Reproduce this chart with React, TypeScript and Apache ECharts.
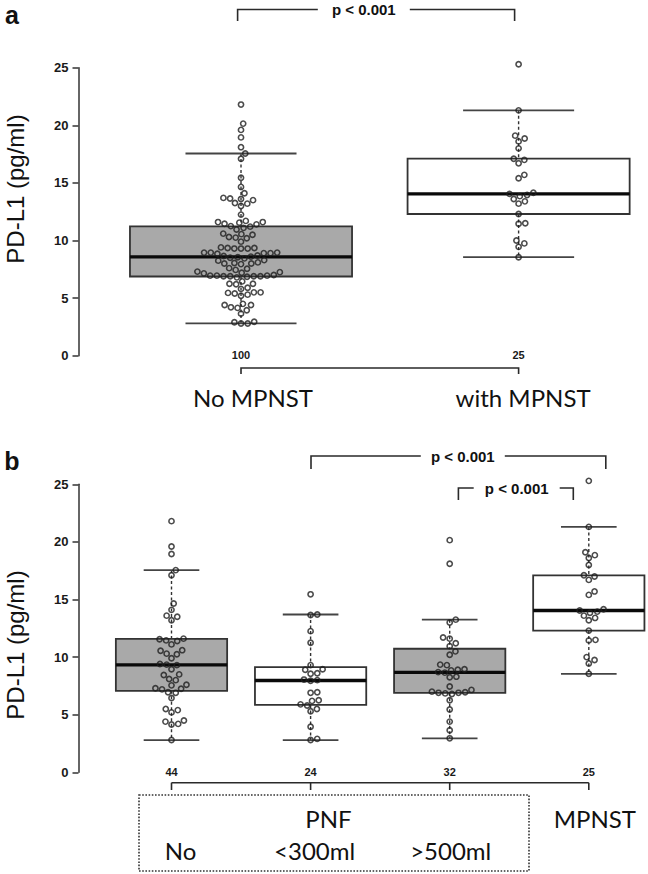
import React, { useEffect, useRef } from "react";
import * as echarts from "echarts";

// ---------- data ----------
const panelACategories = ["No MPNST", "with MPNST"];
const panelBTopLabel = ["PNF", "MPNST"];
const panelBCategories = ["No", "<300ml", ">500ml"];

const noPnf = [
  21.8, 19.6, 18.95, 17.55, 17.1, 14.65, 14.1, 13.6, 13.5, 13.2,
  11.6, 11.55, 11.45, 11.4, 11.1, 10.6, 10.55, 10.3, 10.25, 9.9, 9.4, 9.35, 9.3,
  8.95, 8.5, 8.45, 8.1, 8.0, 7.6, 7.55, 7.3, 7.25, 7.2, 6.95, 6.9, 6.45,
  5.5, 5.4, 5.2, 4.5, 4.4, 4.2, 4.15, 2.8,
];
const pnfSmall = [
  15.45, 13.7, 13.65, 12.25, 11.25, 9.3, 8.95, 8.9, 8.6, 8.55, 8.05, 8.0,
  7.95, 6.95, 6.9, 6.25, 6.2, 5.9, 5.8, 5.5, 5.3, 3.95, 2.9, 2.8,
];
const pnfLarge = [
  20.15, 18.1, 13.25, 13.0, 11.7, 11.6, 11.2, 10.95, 10.5, 10.2, 9.35, 9.3,
  8.95, 8.9, 8.85, 8.7, 8.65, 8.3, 8.25, 7.45, 7.15, 7.0, 6.95, 6.9, 6.9,
  6.85, 6.8, 6.25, 5.45, 4.4, 3.65, 2.95,
];
const mpnst = [
  25.3, 21.3, 19.1, 18.85, 18.6, 18.0, 17.1, 17.0, 16.7, 15.7, 15.4, 14.15,
  14.05, 13.95, 13.85, 13.6, 13.4, 13.2, 12.3, 11.5, 11.45, 10.0, 9.75, 9.45, 8.55,
];
const noMpnst = [...noPnf, ...pnfSmall, ...pnfLarge];

const panelAGroups = [noMpnst, mpnst];
const panelBGroups = [noPnf, pnfSmall, pnfLarge, mpnst];
const panelAFills = ["#a9a9a9", "#ffffff"];
const panelBFills = ["#a9a9a9", "#ffffff", "#a9a9a9", "#ffffff"];
const yTicks = [0, 5, 10, 15, 20, 25];
const pLabel = "p < 0.001";
const yTitle = "PD-L1 (pg/ml)";

// ---------- layout constants ----------
const W = 648;
const H = 874;
const GRID_LEFT = 78.5;
const PLOT_H = 288;
const A_TOP = 67.7;
const B_TOP = 484.3;
const A_MIN = 0.4146, A_MAX = 2.45;
const B_MIN = 0.3314, B_MAX = 4.4;
const A_SPACING = 277.6;
const B_SPACING = 139.1;
const SWARM_D = 6.7;

// R style boxplot statistics
function fivenum(x: number[]) {
  const s = [...x].sort((a, b) => a - b);
  const n = s.length;
  const n4 = Math.floor((n + 3) / 2) / 2;
  const d = [1, n4, (n + 1) / 2, n + 1 - n4, n];
  return d.map((p) => 0.5 * (s[Math.floor(p) - 1] + s[Math.ceil(p) - 1]));
}
function boxStats(x: number[]) {
  const [, q1, med, q3] = fivenum(x);
  const iqr = q3 - q1;
  const lowF = q1 - 1.5 * iqr;
  const hiF = q3 + 1.5 * iqr;
  const lo = Math.min(...x.filter((v) => v >= lowF));
  const hi = Math.max(...x.filter((v) => v <= hiF));
  return [lo, q1, med, q3, hi];
}

// beeswarm ("swarm", ascending priority) offsets in pixels
function swarm(values: number[], pxPerUnit: number, d: number) {
  const n = values.length;
  const ys = values.map((v) => (v * pxPerUnit) / d);
  const order = values.map((_, i) => i).sort((a, b) => values[a] - values[b]);
  const xs = new Array(n).fill(0);
  const placed: number[] = [];
  for (const i of order) {
    const cands = [0];
    const near: number[] = [];
    for (const j of placed) {
      const dy = ys[i] - ys[j];
      if (Math.abs(dy) < 1) {
        near.push(j);
        const s = Math.sqrt(1 - dy * dy);
        cands.push(xs[j] + s, xs[j] - s);
      }
    }
    let best = Infinity;
    for (const c of cands) {
      if (Math.abs(c) >= Math.abs(best)) continue;
      let ok = true;
      for (const j of near) {
        const dx = c - xs[j];
        const dy = ys[i] - ys[j];
        if (dx * dx + dy * dy < 0.999) { ok = false; break; }
      }
      if (ok) best = c;
    }
    xs[i] = best;
    placed.push(i);
  }
  return xs.map((x) => x * d);
}

const FONT_AXIS = "Liberation Sans, Arial, sans-serif";
const FONT_LABEL = "Lato, Carlito, sans-serif";
const INK = "#1a1a1a";
const LINE = "#333";

function boxSeries(groups: number[][], fills: string[], gi: number) {
  return {
    type: "custom",
    xAxisIndex: gi,
    yAxisIndex: gi,
    clip: false,
    z: 2,
    data: groups.map((g, i) => [i + 1, ...boxStats(g)]),
    renderItem: (params: any, api: any) => {
      const x = api.value(0);
      const c = (v: number) => api.coord([x, v]);
      const lo = c(api.value(1));
      const q1 = c(api.value(2));
      const md = c(api.value(3));
      const q3 = c(api.value(4));
      const hi = c(api.value(5));
      const cx = lo[0];
      const half = api.size([0.8, 0])[0] / 2;
      const cap = half * 0.5;
      const fill = fills[params.dataIndex];
      const dash = { stroke: LINE, lineWidth: 1.4, lineDash: [3, 2.5] };
      const solid = { stroke: "#444", lineWidth: 1.8 };
      return {
        type: "group",
        children: [
          { type: "line", shape: { x1: cx, y1: hi[1], x2: cx, y2: q3[1] }, style: dash },
          { type: "line", shape: { x1: cx, y1: q1[1], x2: cx, y2: lo[1] }, style: dash },
          { type: "line", shape: { x1: cx - cap, y1: hi[1], x2: cx + cap, y2: hi[1] }, style: solid },
          { type: "line", shape: { x1: cx - cap, y1: lo[1], x2: cx + cap, y2: lo[1] }, style: solid },
          {
            type: "rect",
            shape: { x: cx - half, y: q3[1], width: 2 * half, height: q1[1] - q3[1] },
            style: { fill, stroke: LINE, lineWidth: 1.8 },
          },
          { type: "line", shape: { x1: cx - half, y1: md[1], x2: cx + half, y2: md[1] }, style: { stroke: "#0a0a0a", lineWidth: 3.4 } },
        ],
      };
    },
  };
}

function pointSeries(groups: number[][], gi: number) {
  const ppu = PLOT_H / 25;
  const data: any[] = [];
  groups.forEach((g, i) => {
    const off = swarm(g, ppu, SWARM_D);
    g.forEach((v, k) => data.push({ value: [i + 1, v], symbolOffset: [off[k], 0] }));
  });
  return {
    type: "scatter",
    xAxisIndex: gi,
    yAxisIndex: gi,
    clip: false,
    z: 3,
    symbol: "circle",
    symbolSize: 5.2,
    itemStyle: { color: "rgba(255,255,255,0)", borderColor: "#1e1e1e", borderWidth: 1.6 },
    emphasis: { disabled: true },
    data,
  };
}

function yAxis(gi: number) {
  return {
    type: "value",
    gridIndex: gi,
    min: yTicks[0],
    max: yTicks[yTicks.length - 1],
    interval: yTicks[1] - yTicks[0],
    axisLine: { show: true, lineStyle: { color: LINE, width: 1.5 } },
    axisTick: { show: true, length: 6, lineStyle: { color: LINE, width: 1.5 } },
    axisLabel: { fontSize: 13, fontWeight: "bold", color: INK, fontFamily: FONT_AXIS, margin: 10 },
    splitLine: { show: false },
  };
}

function xAxis(gi: number, min: number, max: number, groups: number[][]) {
  return {
    type: "value",
    gridIndex: gi,
    min,
    max,
    axisLine: { show: false },
    axisTick: { show: false },
    splitLine: { show: false },
    axisLabel: {
      customValues: groups.map((_, i) => i + 1),
      formatter: (v: number) => String(groups[Math.round(v) - 1]?.length ?? ""),
      margin: -6,
      fontSize: 11,
      fontWeight: "bold",
      color: INK,
      fontFamily: FONT_AXIS,
    },
  };
}

export default function App() {
  const ref = useRef<HTMLDivElement>(null);
  useEffect(() => {
    document.body.style.margin = "0";
    const chart = echarts.init(ref.current!, null, { renderer: "svg" });
    const aWidth = (A_MAX - A_MIN) * A_SPACING;
    const bWidth = (B_MAX - B_MIN) * B_SPACING;
    chart.setOption({
      animation: false,
      grid: [
        { left: GRID_LEFT, top: A_TOP, width: aWidth, height: PLOT_H },
        { left: GRID_LEFT, top: B_TOP, width: bWidth, height: PLOT_H },
      ],
      xAxis: [xAxis(0, A_MIN, A_MAX, panelAGroups), xAxis(1, B_MIN, B_MAX, panelBGroups)],
      yAxis: [yAxis(0), yAxis(1)],
      series: [
        boxSeries(panelAGroups, panelAFills, 0),
        pointSeries(panelAGroups, 0),
        boxSeries(panelBGroups, panelBFills, 1),
        pointSeries(panelBGroups, 1),
      ],
    });

    const px = (gi: number, x: number) => (chart.convertToPixel({ gridIndex: gi } as any, [x, 0]) as number[])[0];
    const a1 = px(0, 1), a2 = px(0, 2);
    const b = [1, 2, 3, 4].map((i) => px(1, i));
    const ln = { stroke: "#2a2a2a", lineWidth: 1.6, fill: "none" };
    const txt = (text: string, x: number, y: number, size: number, family: string, extra: any = {}) => ({
      type: "text",
      x,
      y,
      silent: true,
      ...extra,
      style: { text, fontSize: size, fontFamily: family, fill: "#111", align: "center", verticalAlign: "middle", ...(extra.style || {}) },
    });
    const bracket = (x1: number, x2: number, y: number, drop: number, tx: number, tw: number) => [
      { type: "polyline", shape: { points: [[x1, y + drop], [x1, y], [tx - tw / 2, y]] }, style: ln },
      { type: "polyline", shape: { points: [[tx + tw / 2, y], [x2, y], [x2, y + drop]] }, style: ln },
      txt(pLabel, tx, y, 15, FONT_AXIS, { style: { fontWeight: "bold" } }),
    ];

    const graphic: any[] = [
      // panel a
      txt("a", 12, 15, 25, FONT_AXIS, { style: { fontWeight: "bold" } }),
      txt(yTitle, 15, 189, 24, FONT_AXIS, { rotation: Math.PI / 2 }),
      ...bracket(a1 - 3.4, a2 - 4, 9.5, 11.5, (a1 + a2) / 2 - 16, 92),
      { type: "polyline", shape: { points: [[a1, 374], [a1, 368], [a2, 368], [a2, 374]] }, style: ln },
      txt(panelACategories[0], a1 + 12, 397, 24, FONT_LABEL),
      txt(panelACategories[1], a2 + 4.5, 397, 24, FONT_LABEL),
      // panel b
      txt("b", 12, 461, 25, FONT_AXIS, { style: { fontWeight: "bold" } }),
      txt(yTitle, 15, 645, 24, FONT_AXIS, { rotation: Math.PI / 2 }),
      ...bracket(b[1] + 0.4, b[3] + 17, 456, 13, 462.8, 84),
      ...bracket(b[2] + 8.7, b[3] - 15.5, 488, 12, 516.7, 86),
      {
        type: "polyline",
        shape: { points: [[b[0], 782.7], [b[3], 782.7]] },
        style: ln,
      },
      ...b.map((x) => ({ type: "line", shape: { x1: x, y1: 782.7, x2: x, y2: 790 }, style: ln })),
      {
        type: "rect",
        shape: { x: 139, y: 795, width: 390, height: 76 },
        style: { fill: "none", stroke: "#333", lineWidth: 1.6, lineDash: [1.6, 1.6] },
      },
      txt(panelBTopLabel[0], 328.5, 818, 24, FONT_LABEL),
      txt(panelBTopLabel[1], b[3] + 6, 818, 24, FONT_LABEL),
      txt(panelBCategories[0], b[0] + 9, 850, 24, FONT_LABEL),
      txt(panelBCategories[1], b[1] + 4, 850, 24, FONT_LABEL),
      txt(panelBCategories[2], b[2] + 1, 850, 24, FONT_LABEL),
    ];
    chart.setOption({ graphic });
    return () => chart.dispose();
  }, []);
  return <div ref={ref} style={{ width: W, height: H }} />;
}
